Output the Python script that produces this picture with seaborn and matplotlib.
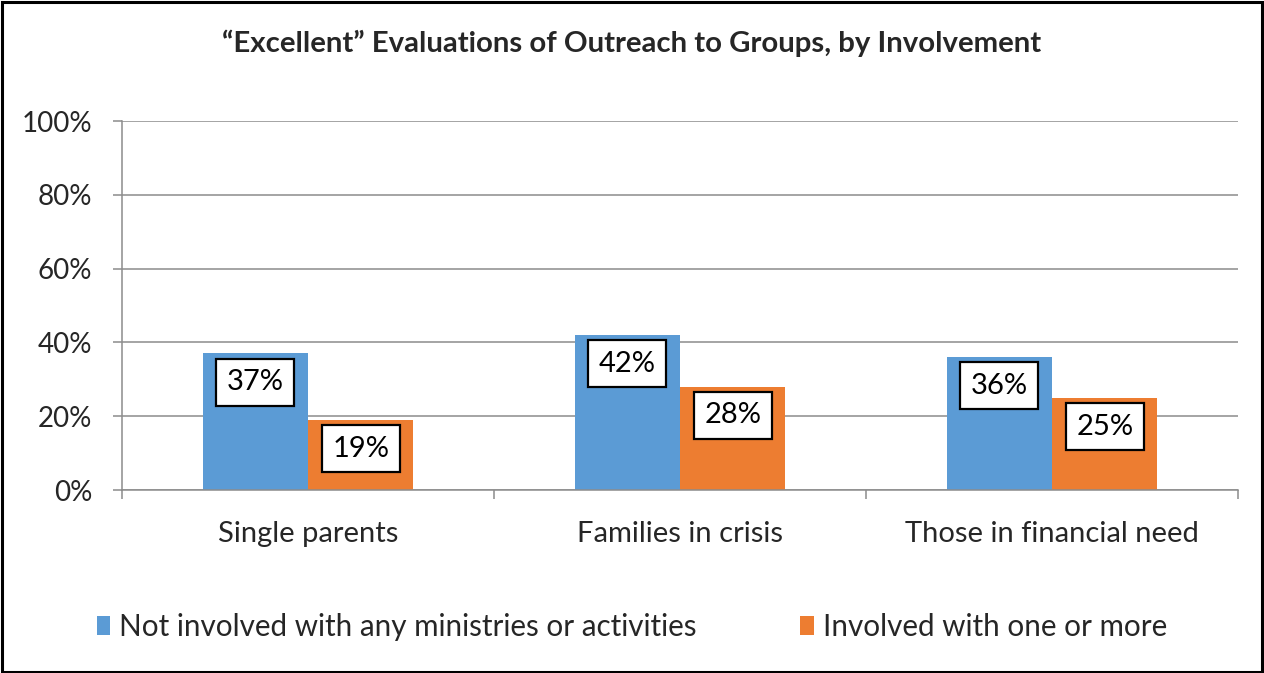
import matplotlib
matplotlib.use("Agg")
import matplotlib.pyplot as plt
import seaborn as sns
import pandas as pd
from matplotlib.patches import Rectangle

categories = ["Single parents", "Families in crisis", "Those in financial need"]
series_names = ["Not involved with any ministries or activities", "Involved with one or more"]
not_involved = [37, 42, 36]
involved = [19, 28, 25]
y_ticks = [0, 20, 40, 60, 80, 100]
title = "\u201cExcellent\u201d Evaluations of Outreach to Groups, by Involvement"

colors = ["#5B9BD5", "#ED7D31"]

df = pd.DataFrame({
    "group": categories * 2,
    "series": [series_names[0]] * 3 + [series_names[1]] * 3,
    "value": not_involved + involved,
})

sns.set_theme(style="white")
plt.rcParams["font.family"] = ["Lato", "DejaVu Sans"]

fig = plt.figure(figsize=(12.64, 6.73), dpi=100)
ax = fig.add_axes([0.0965, 0.2719, 0.8829, 0.5483])

sns.barplot(data=df, x="group", y="value", hue="series", order=categories,
            hue_order=series_names, palette=colors, width=0.567, ax=ax,
            saturation=1, legend=True, linewidth=0, errorbar=None)

ax.set_ylim(0, 100)
ax.set_xlim(-0.5, 2.5)
ax.set_yticks(y_ticks)
ax.set_yticklabels([f"{t}%" for t in y_ticks], fontsize=20)
ax.yaxis.grid(True, color="#8C8C8C", linewidth=1.1)
ax.set_axisbelow(True)
ax.set_xlabel("")
ax.set_ylabel("")

# category labels without tick marks; boundary tick marks as minor ticks
ax.set_xticks(range(len(categories)))
ax.set_xticklabels(categories, fontsize=21)
ax.tick_params(axis="x", which="major", length=0, pad=22)
ax.set_xticks([-0.5, 0.5, 1.5, 2.5], minor=True)
ax.tick_params(axis="x", which="minor", length=6.5, width=1.1, color="#8C8C8C", bottom=True)
ax.tick_params(axis="y", length=6.5, width=1.1, color="#8C8C8C", left=True, pad=15)

for side in ["top", "right"]:
    ax.spines[side].set_visible(False)
for side in ["left", "bottom"]:
    ax.spines[side].set_color("#8C8C8C")
    ax.spines[side].set_linewidth(1.1)

# value labels boxed near the top of each bar
for container in ax.containers:
    for bar in container:
        h = bar.get_height()
        ax.text(bar.get_x() + bar.get_width() / 2, h - 7.8, f"{h:.0f}%",
                ha="center", va="center", fontsize=21, color="black",
                bbox=dict(boxstyle="square,pad=0.36", facecolor="white",
                          edgecolor="black", linewidth=1.6))

leg = ax.get_legend()
leg.remove()
handles = [Rectangle((0, 0), 1, 1, facecolor=c, edgecolor="none") for c in colors]
fig.legend(handles, series_names, loc="center", bbox_to_anchor=(0.5, 0.068),
           ncol=2, frameon=False, fontsize=21.3, handlelength=0.45, handleheight=0.6,
           handletextpad=0.3, columnspacing=3.5)

fig.text(0.5, 0.936, title, ha="center", va="center", fontsize=21.2, fontweight="bold")

# outer frame
fig.patches.append(Rectangle((0.0015, 0.002), 0.997, 0.995, transform=fig.transFigure,
                             fill=False, edgecolor="black", linewidth=2.2))

fig.savefig("out.png", dpi=100)
